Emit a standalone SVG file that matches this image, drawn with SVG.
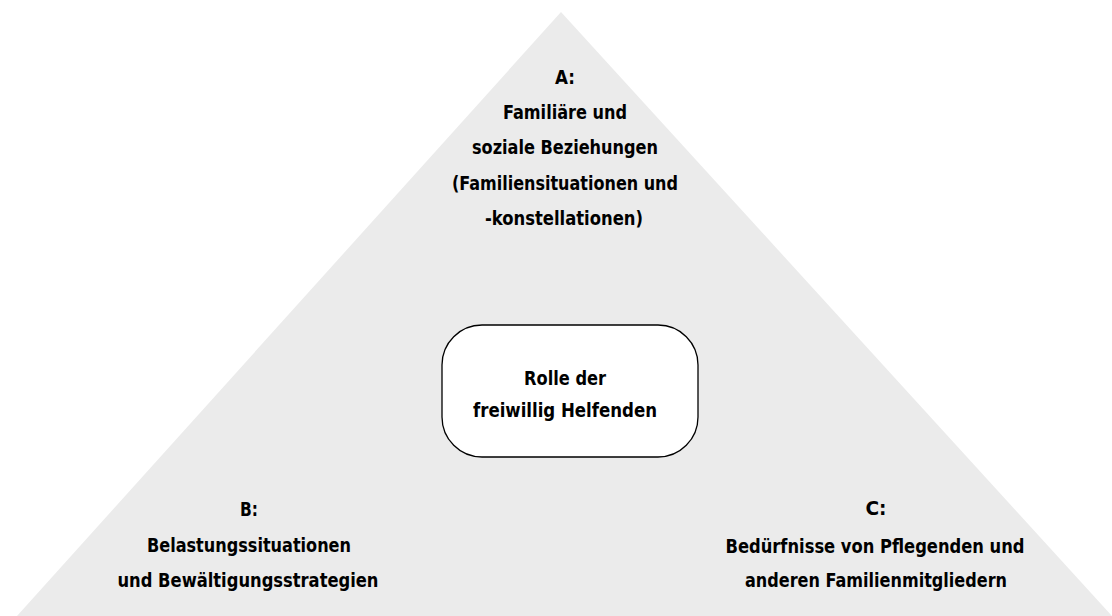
<svg xmlns="http://www.w3.org/2000/svg" width="1112" height="616" viewBox="0 0 1112 616">
  <style>
    .t { font-family: "DejaVu Sans Condensed", "Liberation Sans Narrow", "Liberation Sans", sans-serif; font-stretch: condensed; font-weight: bold; font-size: 20px; fill: #000; text-anchor: middle; }
  </style>
  <rect width="1112" height="616" fill="#ffffff"/>
  <g id="triangle">
    <polygon points="561,12 17,616 1112,616" fill="#ebebeb"/>
  </g>
  <g id="nodeA">
    <text class="t" x="565" y="84" textLength="20" lengthAdjust="spacingAndGlyphs">A:</text>
    <text class="t" x="565" y="119" textLength="124" lengthAdjust="spacingAndGlyphs">Familiäre und</text>
    <text class="t" x="565" y="154" textLength="186" lengthAdjust="spacingAndGlyphs">soziale Beziehungen</text>
    <text class="t" x="565" y="190" textLength="226" lengthAdjust="spacingAndGlyphs">(Familiensituationen und</text>
    <text class="t" x="564" y="225" textLength="158" lengthAdjust="spacingAndGlyphs">-konstellationen)</text>
  </g>
  <g id="center">
    <rect x="442" y="325" width="256" height="132" rx="40" ry="40" fill="#ffffff" stroke="#000" stroke-width="1.3"/>
    <text class="t" x="565" y="385" textLength="82" lengthAdjust="spacingAndGlyphs">Rolle der</text>
    <text class="t" x="565" y="417" textLength="184" lengthAdjust="spacingAndGlyphs">freiwillig Helfenden</text>
  </g>
  <g id="nodeB">
    <text class="t" x="249" y="516" textLength="18" lengthAdjust="spacingAndGlyphs">B:</text>
    <text class="t" x="249" y="552" textLength="204" lengthAdjust="spacingAndGlyphs">Belastungssituationen</text>
    <text class="t" x="248" y="587" textLength="261" lengthAdjust="spacingAndGlyphs">und Bewältigungsstrategien</text>
  </g>
  <g id="nodeC">
    <text class="t" x="876" y="515" textLength="21" lengthAdjust="spacingAndGlyphs">C:</text>
    <text class="t" x="875" y="553" textLength="299" lengthAdjust="spacingAndGlyphs">Bedürfnisse von Pflegenden und</text>
    <text class="t" x="876" y="587" textLength="262" lengthAdjust="spacingAndGlyphs">anderen Familienmitgliedern</text>
  </g>
  <g id="connectors"></g>
</svg>
